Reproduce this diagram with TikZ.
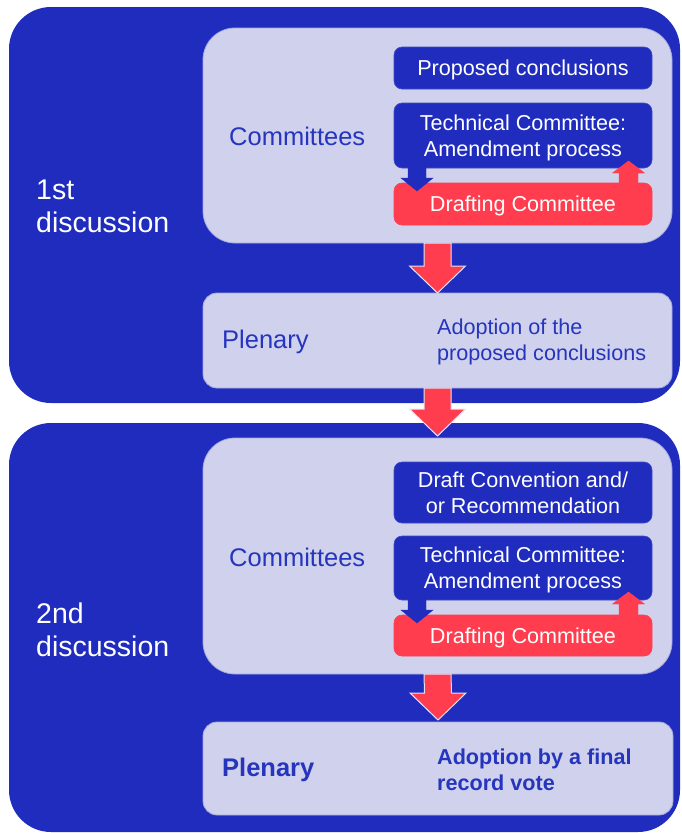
\documentclass[tikz,border=0pt]{standalone}
\usepackage{fontspec}
\setmainfont{Liberation Sans}
\usepackage{tikz}
\usetikzlibrary{calc, positioning}
\definecolor{ilsBlue}{HTML}{1F2CBD}
\definecolor{ilsLav}{HTML}{D0D1EC}
\definecolor{ilsLavEdge}{HTML}{A3A8DC}
\definecolor{ilsRed}{HTML}{FF3D4F}
\definecolor{ilsText}{HTML}{2535BD}

% fat vertical arrow: style, start, tip, half shaft, half head, head offset
\newcommand{\blockarrow}[6]{%
  \filldraw[#1] ($(#2)+(-#4,0)$) -- ($(#3)+(-#4,#6)$) -- ($(#3)+(-#5,#6)$) -- (#3)
    -- ($(#3)+(#5,#6)$) -- ($(#3)+(#4,#6)$) -- ($(#2)+(#4,0)$) -- cycle;}

\begin{document}
\begin{tikzpicture}[x=1pt,y=-1pt,
 panel/.style={rectangle,rounded corners=42pt,fill=ilsBlue,anchor=north west,
 minimum width=671pt,inner sep=0pt,outer sep=0pt},
 group/.style={rectangle,rounded corners=32pt,fill=ilsLav,draw=ilsLavEdge,line width=0.8pt,
 anchor=north west,minimum width=469pt,inner sep=0pt,outer sep=0pt},
 stage/.style={group,rounded corners=14pt},
 item/.style={rectangle,rounded corners=8pt,fill=ilsBlue,draw=ilsBlue!85!white,line width=0.6pt,
 anchor=north west,minimum width=258pt,align=center,text=white,text depth=-1pt,
 font=\fontsize{21.6}{26}\selectfont,inner sep=0pt,outer sep=0pt},
 draft/.style={item,fill=ilsRed,draw=ilsRed},
 phase/.style={anchor=west,align=left,text=white,font=\fontsize{28.5}{33}\selectfont,inner sep=0pt},
 grouptext/.style={anchor=west,text=ilsText,font=\fontsize{25.5}{30}\selectfont,inner sep=0pt},
 body/.style={anchor=west,align=left,text=ilsText,font=\fontsize{21.6}{26.5}\selectfont,inner sep=0pt},
 bigarrow/.style={fill=ilsRed,draw=ilsLav!60!white,line width=1pt},
 downarrow/.style={fill=ilsBlue,draw=ilsBlue,line width=0.4pt},
 uparrow/.style={fill=ilsRed,draw=ilsRed,line width=0.4pt}]
\useasboundingbox (0,0) rectangle (682,833);

% the two discussions
\node[panel,minimum height=396pt] (first) at (9,7) {};
\node[panel,minimum height=409pt] (second) at (9,423) {};

% 1st discussion
\node[group,minimum height=215pt] (com1) at (203,28) {};
\node[stage,minimum height=95pt] (plen1) at (203,293) {};
\node[item,minimum height=42pt] (prop1) at (394,47) {Proposed conclusions};
\node[item,minimum height=65pt] (tech1) at (394,103) {Technical Committee:\\Amendment process};
\node[draft,minimum height=42pt] (draft1) at (394,183) {Drafting Committee};

% 2nd discussion
\node[group,minimum height=236pt] (com2) at (203,438) {};
\node[stage,minimum height=93pt,minimum width=470pt] (plen2) at (203,722) {};
\node[item,minimum height=61pt] (conv2) at (394,462) {Draft Convention and/\\or Recommendation};
\node[item,minimum height=64pt] (tech2) at (394,536) {Technical Committee:\\Amendment process};
\node[draft,minimum height=41pt] (draft2) at (394,615) {Drafting Committee};

% texts
\node[phase] (disc1) at (36,206) {1st\\discussion};
\node[grouptext] (cmt1) at (229,136) {Committees};
\node[grouptext] (pl1) at (222,342) {Plenary};
\node[body] (adopt1) at (437,342) {Adoption of the\\proposed conclusions};
\node[phase] (disc2) at (36,630) {2nd\\discussion};
\node[grouptext] (cmt2) at (229,557) {Committees};
\node[grouptext,font=\fontsize{25.5}{30}\selectfont\bfseries] (pl2) at (222,770) {Plenary};
\node[body,font=\fontsize{21.6}{26.5}\selectfont\bfseries] (adopt2) at (437,770) {Adoption by a final\\record vote};

% amendment loops
\coordinate (dn1a) at ($(tech1.south west)+(23,-2)$);
\coordinate (dn1b) at ($(draft1.north west)+(23,8)$);
\coordinate (up1a) at ($(draft1.north east)+(-23.5,2)$);
\coordinate (up1b) at ($(tech1.south east)+(-23.5,-7)$);
\coordinate (dn2a) at ($(tech2.south west)+(23,-2)$);
\coordinate (dn2b) at ($(draft2.north west)+(23,8)$);
\coordinate (up2a) at ($(draft2.north east)+(-23.5,2)$);
\coordinate (up2b) at ($(tech2.south east)+(-23.5,-8)$);
\blockarrow{downarrow}{dn1a}{dn1b}{9}{16}{-13}
\blockarrow{uparrow}{up1a}{up1b}{9.5}{16}{12}
\blockarrow{downarrow}{dn2a}{dn2b}{9}{16}{-13}
\blockarrow{uparrow}{up2a}{up2b}{9.5}{16}{12}

% flow between stages
\coordinate (into2) at ($(com2.north)+(0,-2)$);
\coordinate (into3) at ($(plen2.north)+(0,-2)$);
\blockarrow{bigarrow}{com1.south}{plen1.north}{13.5}{28}{-27}
\blockarrow{bigarrow}{plen1.south}{into2}{13.5}{28}{-27}
\blockarrow{bigarrow}{com2.south}{into3}{13.5}{28}{-27}
\end{tikzpicture}
\end{document}
